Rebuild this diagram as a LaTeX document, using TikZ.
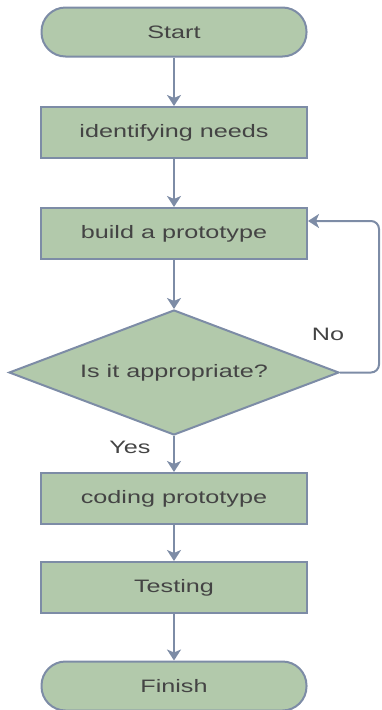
\documentclass[tikz,border=0pt]{standalone}
\usepackage{fontspec}
\setmainfont{Liberation Sans}[FakeStretch=1.4]
\usetikzlibrary{shapes.geometric,arrows.meta}
\definecolor{fillg}{HTML}{B2C9AB}
\definecolor{edgeb}{HTML}{7D8CA6}
\definecolor{txt}{HTML}{444444}
\begin{document}
\begin{tikzpicture}[x=1pt,y=1pt,
  base/.style={draw=edgeb, fill=fillg, line width=2pt, text=txt, font=\fontsize{18}{20}\selectfont, inner sep=0pt},
  term/.style={base, rectangle, rounded corners=24pt, minimum width=265pt, minimum height=49pt},
  proc/.style={base, rectangle, minimum width=266pt, minimum height=51pt},
  dec/.style={base, diamond, aspect=2.64, minimum width=330pt, minimum height=125pt},
  arr/.style={draw=edgeb, line width=2pt, -{Stealth[width=14pt,length=11pt,inset=3pt]}},
  lbl/.style={text=txt, font=\fontsize{18}{20}\selectfont, inner sep=0pt}]
\useasboundingbox (0,0) rectangle (381,-710);
\node[term] (start) at (174,-32) {Start};
\node[proc] (need) at (174,-132.5) {identifying needs};
\node[proc] (build) at (174,-233.5) {build a prototype};
\node[dec] (ask) at (174,-372.5) {Is it appropriate?};
\node[proc] (code) at (174,-498.5) {coding prototype};
\node[proc] (test) at (174,-587.5) {Testing};
\node[term] (finish) at (174,-686) {Finish};
\coordinate (loopc) at (379,-221);
\draw[arr] (start) -- (need);
\draw[arr] (need) -- (build);
\draw[arr] (build) -- (ask.north);
\draw[arr] (ask.south) -- (code);
\draw[arr] (code) -- (test);
\draw[arr] (test) -- (finish);
\draw[arr, rounded corners=8pt] (ask.east) -| (loopc) -- (build.east |- loopc);
\node[lbl] (no) at (328,-334) {No};
\node[lbl] (yes) at (130,-447) {Yes};
\end{tikzpicture}
\end{document}
